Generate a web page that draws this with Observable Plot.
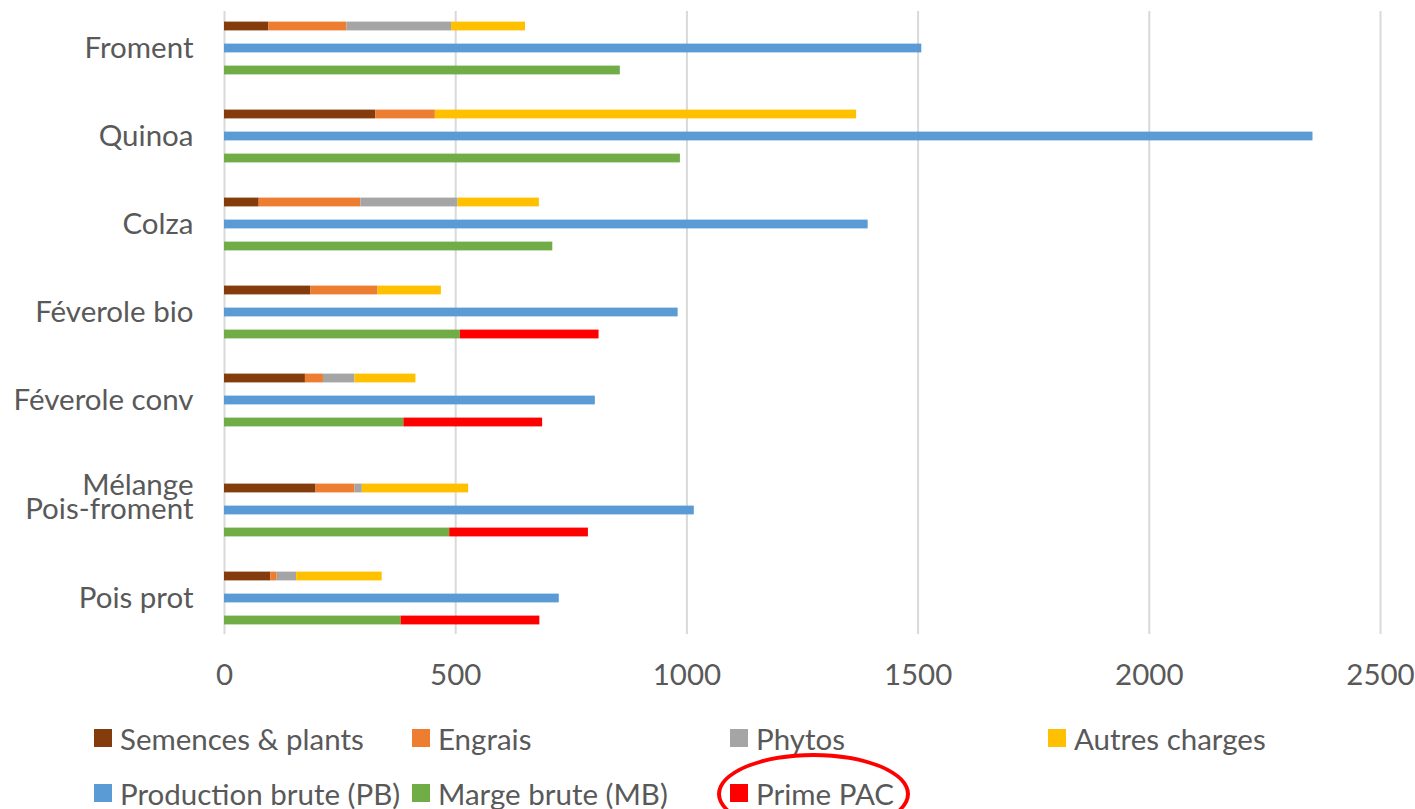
<!DOCTYPE html>
<html lang="fr">
<head>
<meta charset="utf-8">
<script src="https://cdn.jsdelivr.net/npm/d3@7"></script>
<script src="https://cdn.jsdelivr.net/npm/@observablehq/plot@0.6"></script>
<style>
  html, body { margin: 0; padding: 0; background: #fff; }
  #wrap { position: relative; width: 1415px; height: 809px; overflow: hidden; font-family: Lato, sans-serif; color: #595959; }
  .item { position: absolute; height: 40px; display: flex; align-items: center; white-space: nowrap; font-size: 29.5px; }
  .sw { width: 18px; height: 18px; margin-right: 8px; flex: none; }
  .ring { position: absolute; border: 4px solid #ff0000; border-radius: 50%; box-sizing: border-box; pointer-events: none; }
</style>
</head>
<body>
<div id="wrap"></div>
<script>
// Cultures (lignes du graphique, de haut en bas)
const crops = ["Froment", "Quinoa", "Colza", "Féverole bio", "Féverole conv", "Mélange\nPois-froment", "Pois prot"];

// Charges opérationnelles (€/ha)
const semences = [96, 327, 75, 187, 175, 198, 100];
const engrais = [169, 129, 220, 145, 39, 84, 14];
const phytos = [226, 0, 210, 0, 68, 16, 42];
const autres = [160, 911, 176, 137, 132, 230, 185];

// Production brute, marge brute et prime PAC (€/ha)
const production = [1508, 2354, 1392, 981, 802, 1016, 724];
const marge = [856, 986, 710, 510, 388, 487, 382];
const prime = [0, 0, 0, 300, 300, 300, 300];

// Séries et couleurs
const seriesNames = ["Semences & plants", "Engrais", "Phytos", "Autres charges", "Production brute (PB)", "Marge brute (MB)", "Prime PAC"];
const seriesColors = ["#843c0c", "#ed7d31", "#a5a5a5", "#ffc000", "#5b9bd5", "#70ad47", "#ff0000"];

// Graduations de l'axe horizontal
const xTicks = [0, 500, 1000, 1500, 2000, 2500];

// Chaque culture occupe trois créneaux (charges, PB, MB + prime) suivis d'un espace ;
// un espace supplémentaire précède le libellé sur deux lignes.
const slot = (crop, k) => `${crop}|${k}`;
const slots = [];
crops.forEach((c, i) => {
  if (c.includes("\n")) slots.push(`${c}|pre`);
  slots.push(slot(c, 0), slot(c, 1), slot(c, 2));
  if (i < crops.length - 1) slots.push(slot(c, 3));
});
const singleLine = crops.filter(c => !c.includes("\n"));
const multiLine = crops.filter(c => c.includes("\n"));

const rows = [];
crops.forEach((c, i) => {
  const add = (k, series, value) => { if (value > 0) rows.push({crop: c, slot: slot(c, k), series, value}); };
  add(0, seriesNames[0], semences[i]);
  add(0, seriesNames[1], engrais[i]);
  add(0, seriesNames[2], phytos[i]);
  add(0, seriesNames[3], autres[i]);
  add(1, seriesNames[4], production[i]);
  add(2, seriesNames[5], marge[i]);
  add(2, seriesNames[6], prime[i]);
});

const cropName = d => d.split("|")[0];

const chart = Plot.plot({
  width: 1415,
  height: 705,
  marginTop: 11,
  marginBottom: 71,
  marginLeft: 224,
  marginRight: 35,
  style: {fontFamily: "Lato, sans-serif", fontSize: "29.5px", color: "#595959", background: "#fff"},
  x: {domain: [0, 2500]},
  y: {domain: slots, padding: 0},
  color: {domain: seriesNames, range: seriesColors},
  marks: [
    Plot.gridX(xTicks, {stroke: "#d9d9d9", strokeOpacity: 1, strokeWidth: 2}),
    Plot.barX(rows, {y: "slot", x: "value", fill: "series", insetTop: 6.6, insetBottom: 6.6}),
    Plot.axisX({ticks: xTicks, tickSize: 0, tickPadding: 30, label: null, tickFormat: d => String(d)}),
    Plot.axisY({ticks: singleLine.map(c => slot(c, 1)), tickSize: 0, tickPadding: 31, label: null,
      tickFormat: cropName}),
    Plot.axisY({ticks: multiLine.map(c => slot(c, 1)), tickSize: 0, tickPadding: 31, label: null,
      lineHeight: 0.8, dy: -11, tickFormat: cropName})
  ]
});

const wrap = document.getElementById("wrap");
chart.style.display = "block";
wrap.appendChild(chart);

// Légende sur deux lignes, quatre colonnes
const legendCols = [94, 412, 730, 1048];
const legendRows = [738, 793];
seriesNames.forEach((name, i) => {
  const row = i < 4 ? 0 : 1;
  const col = i < 4 ? i : i - 4;
  const item = document.createElement("div");
  item.className = "item";
  item.style.left = legendCols[col] + "px";
  item.style.top = (legendRows[row] - 20) + "px";
  const sw = document.createElement("span");
  sw.className = "sw";
  sw.style.background = seriesColors[i];
  const label = document.createElement("span");
  label.textContent = name;
  item.appendChild(sw);
  item.appendChild(label);
  wrap.appendChild(item);
  if (name === "Prime PAC") {
    const ring = document.createElement("div");
    ring.className = "ring";
    ring.style.left = "-13px";
    ring.style.top = "-20px";
    ring.style.width = "193px";
    ring.style.height = "82px";
    item.appendChild(ring);
  }
});
</script>
</body>
</html>
